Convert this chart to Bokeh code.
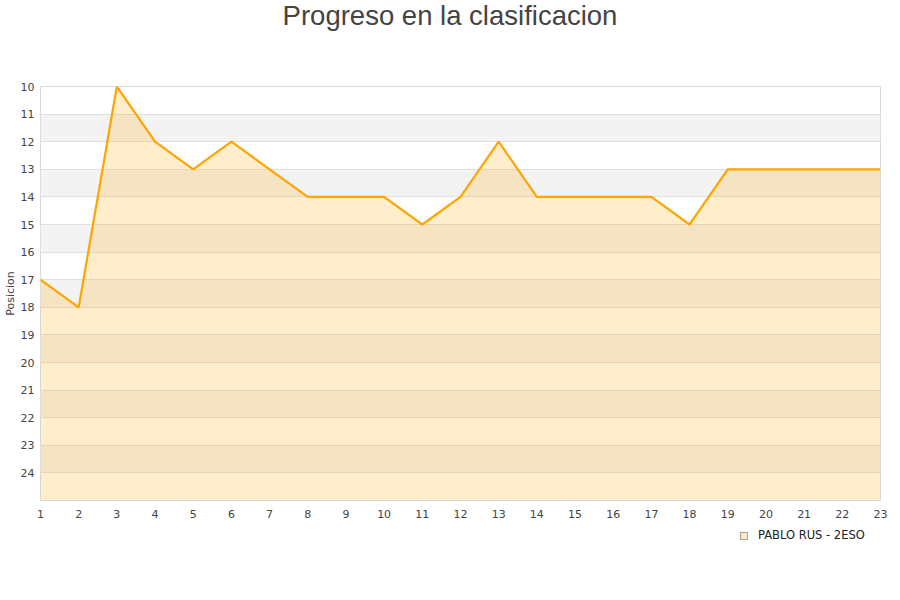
from bokeh.plotting import figure
from bokeh.layouts import column
from bokeh.models import Range1d, FixedTicker, Legend, LegendItem, ColumnDataSource, Label
from bokeh.embed import file_html
from bokeh.resources import INLINE

jornadas = list(range(1, 24))
posiciones = [17, 18, 10, 12, 13, 12, 13, 14, 14, 14, 15, 14, 12, 14, 14, 14, 14, 15, 13, 13, 13, 13, 13]
y_ticks = list(range(10, 25))
x_ticks = list(range(1, 24))
serie = "PABLO RUS - 2ESO"
titulo = "Progreso en la clasificacion"
eje_y = "Posicion"
fondo = 25

W = 892
FL, FR = 40, 880          # frame left/right in page pixels
HT, HM, HL = 40, 484, 60


def blank(h):
    f = figure(width=W, height=h, output_backend="svg", toolbar_location=None,
               x_range=Range1d(FL, FR), y_range=Range1d(0, h),
               x_axis_type=None, y_axis_type=None, min_border=0,
               min_border_left=FL, min_border_right=W - FR)
    f.xgrid.visible = False
    f.ygrid.visible = False
    f.outline_line_color = None
    return f


# title strip
ft = blank(HT)
ft.add_layout(Label(x=449.5, y=HT - 15, text=titulo, text_align="center", text_baseline="middle",
                    text_font="Liberation Sans", text_font_size="27.5px", text_color="#444444"))

# main chart
p = figure(width=W, height=HM, output_backend="svg", toolbar_location=None,
           x_range=Range1d(1, 23), y_range=Range1d(25, 10),
           min_border_left=FL, min_border_right=W - FR, min_border_top=46, min_border_bottom=24)
p.outline_line_color = "#d9d9d9"
p.background_fill_color = "white"
p.border_fill_color = "white"
p.xgrid.grid_line_color = None
p.ygrid.grid_line_color = "#e0e0e0"
p.ygrid.band_fill_color = "#f3f3f3"
p.ygrid.band_fill_alpha = 1.0

src = ColumnDataSource(dict(x=jornadas, y=posiciones, b=[fondo] * len(jornadas)))
p.varea(x="x", y1="y", y2="b", source=src, fill_color="#ffa500", fill_alpha=0.2)
p.line(x="x", y="y", source=src, line_color="#ffa500", line_width=2.2)

for ax in (p.xaxis[0], p.yaxis[0]):
    ax.major_label_text_font = "DejaVu Sans"
    ax.major_label_text_font_size = "11px"
    ax.major_label_text_color = "#444444"
    ax.major_tick_line_color = None
    ax.minor_tick_line_color = None
    ax.major_tick_out = 0
    ax.major_tick_in = 0
    ax.minor_tick_out = 0
    ax.axis_line_color = None

p.xaxis.ticker = FixedTicker(ticks=x_ticks)
p.yaxis.ticker = FixedTicker(ticks=y_ticks)
p.xaxis.major_label_standoff = 9
p.yaxis.major_label_standoff = 6
p.yaxis.axis_label = eje_y
p.yaxis.axis_label_text_font = "DejaVu Sans"
p.yaxis.axis_label_text_font_size = "11px"
p.yaxis.axis_label_text_font_style = "normal"
p.yaxis.axis_label_text_color = "#444444"
p.yaxis.axis_label_standoff = 1

# legend strip (hidden proxy renderer only supplies the legend swatch style)
fl = blank(HL)
proxy = fl.quad(left=[min(jornadas)], right=[max(jornadas)],
                bottom=[min(posiciones)], top=[max(posiciones)],
                fill_color="#ffe9c4", line_color="#a09a90", line_width=1, visible=False)
legend = Legend(items=[LegendItem(label=serie, renderers=[proxy])],
                location=(739 - FL, 42), orientation="horizontal",
                glyph_width=9, glyph_height=9, label_standoff=10, padding=0, margin=0,
                label_text_font="DejaVu Sans", label_text_font_size="11.5px",
                label_text_color="#222222", border_line_color=None, background_fill_alpha=0,
                inactive_fill_alpha=0)
fl.add_layout(legend, "center")

page = column(ft, p, fl, spacing=0)
open("out.html", "w").write(file_html(page, INLINE))
